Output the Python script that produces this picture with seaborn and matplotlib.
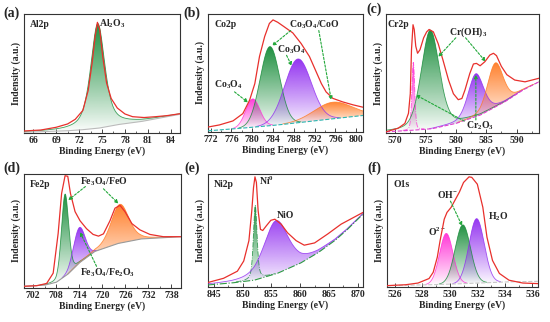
import numpy as np
import seaborn as sns
import matplotlib
matplotlib.use("Agg")
import matplotlib.pyplot as plt
import matplotlib.colors as mcolors
from matplotlib.ticker import AutoMinorLocator

# ---------------- data (intensity in a.u.) ----------------
# (a) Al2p
al_x = [64.8, 67, 69, 70.5, 71.5, 72.5, 73.2, 73.7, 74.1, 74.4, 74.7, 75.1, 75.6, 76.2,
        77, 78, 79, 80.5, 82, 83.5, 85.2]
al_y = [0.017, 0.025, 0.048, 0.076, 0.115, 0.19, 0.36, 0.585, 0.81, 0.93, 0.87, 0.64, 0.42,
        0.29, 0.21, 0.16, 0.137, 0.13, 0.137, 0.146, 0.162]
al_bg_x = [64.8, 70, 72, 74.5, 77, 80, 85.2]
al_bg_y = [0.006, 0.017, 0.025, 0.04, 0.07, 0.095, 0.157]
al_center = [74.45]
al_height = [0.88]
al_fwhm = [2.2]
al_eta = [0.6]

# (b) Co2p
co_x = [771.5, 773.7, 776.3, 778.2, 779.5, 780.5, 781.4, 782.4, 783.3, 784.0, 784.9, 786.2,
        787.8, 789.4, 791.0, 792.3, 793.3, 794.2, 795.5, 797.4, 799.4, 801.3]
co_y = [0.042, 0.06, 0.094, 0.156, 0.27, 0.41, 0.64, 0.81, 0.92, 0.95, 0.93, 0.89, 0.84,
        0.75, 0.64, 0.51, 0.41, 0.34, 0.285, 0.255, 0.23, 0.21]
co_bg_x = [771.5, 776, 780, 785, 790, 795, 801.3]
co_bg_y = [0.01, 0.025, 0.04, 0.06, 0.085, 0.11, 0.14]
co_center = [780.1, 783.4, 788.8, 795.5]
co_height = [0.24, 0.67, 0.54, 0.14]
co_fwhm = [3.2, 4.4, 6.0, 8.5]
co_eta = [0.0, 0.0, 0.0, 0.0]

# (c) Cr2p
cr_x = [568.5, 570.5, 571.6, 572.2, 572.5, 572.7, 572.95, 573.15, 573.4, 573.7, 574.1, 574.7,
        575.2, 575.6, 576.3, 577.1, 577.9, 578.8, 579.6, 580.4, 581.0, 581.5, 582.3, 582.9,
        583.4, 584.0, 584.8, 585.6, 586.2, 586.7, 587.5, 588.4, 589.7, 591.4, 593.7]
cr_y = [0.01, 0.04, 0.08, 0.165, 0.33, 0.70, 0.91, 0.87, 0.73, 0.67, 0.70, 0.80,
        0.85, 0.87, 0.85, 0.75, 0.61, 0.445, 0.33, 0.28, 0.29, 0.36, 0.50, 0.58,
        0.585, 0.565, 0.60, 0.655, 0.67, 0.65, 0.56, 0.49, 0.445, 0.43, 0.46]
cr_bg_x = [568.5, 572, 576, 580, 584, 588, 591, 593.7]
cr_bg_y = [0.01, 0.02, 0.035, 0.08, 0.15, 0.26, 0.36, 0.43]
cr_center = [573.0, 575.8, 583.3, 586.5]
cr_height = [0.57, 0.83, 0.36, 0.37]
cr_fwhm = [0.55, 3.5, 3.0, 3.0]
cr_eta = [0.3, 0.3, 0.3, 0.2]

# (d) Fe2p
fe_x = [699.6, 702.9, 705.5, 707.2, 708.5, 709.4, 710.3, 711.0, 711.7, 712.9, 714.2, 715.9,
        717.6, 719.0, 720.3, 722.0, 723.3, 724.6, 725.9, 727.7, 729.8, 732.4, 735.9, 740.5]
fe_y = [0.015, 0.02, 0.04, 0.13, 0.48, 0.83, 0.985, 0.98, 0.83, 0.67, 0.59, 0.52,
        0.47, 0.455, 0.475, 0.59, 0.70, 0.725, 0.67, 0.565, 0.51, 0.47, 0.45, 0.45]
fe_bg_x = [699.6, 705, 708, 711, 714, 718, 724, 730, 740.5]
fe_bg_y = [0.015, 0.025, 0.05, 0.12, 0.22, 0.32, 0.39, 0.43, 0.45]
fe_center = [710.3, 714.0, 724.6]
fe_height = [0.72, 0.31, 0.34]
fe_fwhm = [2.2, 3.6, 5.5]
fe_eta = [0.2, 0.0, 0.3]

# (e) Ni2p
ni_x = [844.0, 846.7, 849.1, 850.2, 851.1, 851.6, 851.9, 852.15, 852.4, 852.7, 853.1, 853.5,
        854.1, 854.9, 855.6, 856.7, 857.8, 859.3, 860.7, 862.5, 864.8, 867.1, 870.9]
ni_y = [0.04, 0.077, 0.14, 0.23, 0.41, 0.675, 0.88, 0.975, 0.925, 0.675, 0.51, 0.50,
        0.54, 0.59, 0.60, 0.556, 0.48, 0.41, 0.37, 0.39, 0.47, 0.556, 0.66]
ni_bg_x = [844, 848, 852, 856, 860, 863, 866, 868, 870.9]
ni_bg_y = [0.018, 0.035, 0.06, 0.12, 0.21, 0.30, 0.41, 0.50, 0.645]
ni_center = [852.2, 855.8]
ni_height = [0.66, 0.47]
ni_fwhm = [0.75, 5.0]
ni_eta = [0.5, 0.5]

# (f) O1s
o_x = [525.45, 526.8, 527.7, 528.5, 528.8, 529.1, 529.3, 529.6, 529.8, 530.1, 530.3, 530.7,
       531.0, 531.4, 531.6, 532.0, 532.4, 532.7, 533.1, 533.6, 534.3, 535.3, 536.4]
o_y = [0.012, 0.02, 0.035, 0.075, 0.13, 0.265, 0.41, 0.60, 0.66, 0.705, 0.75, 0.84,
       0.925, 0.975, 0.97, 0.91, 0.705, 0.44, 0.235, 0.12, 0.06, 0.035, 0.03]
o_bg_x = [525.45, 528, 530, 532, 534, 536.4]
o_bg_y = [0.012, 0.018, 0.025, 0.035, 0.045, 0.05]
o_center = [529.75, 530.95, 531.95]
o_height = [0.45, 0.52, 0.57]
o_fwhm = [1.15, 1.3, 1.3]
o_eta = [0.0, 0.0, 0.0]

# ---------------- style ----------------
sns.set_style("ticks")
plt.rcParams["font.family"] = ["Liberation Serif", "DejaVu Serif"]
plt.rcParams["font.weight"] = "bold"
plt.rcParams["axes.labelweight"] = "bold"
plt.rcParams["mathtext.fontset"] = "custom"
plt.rcParams["mathtext.rm"] = "Liberation Serif:bold"
plt.rcParams["mathtext.it"] = "Liberation Serif:bold"
plt.rcParams["mathtext.bf"] = "Liberation Serif:bold"
plt.rcParams["mathtext.default"] = "rm"

RED = "#e8302c"
GREEN = "#138a36"
PURPLE = "#8f2bf0"
MAGENTA = "#ff2fd6"
ORANGE = "#ff7a22"
ARROW = "#22a83a"

W, H = 550, 322
fig = plt.figure(figsize=(W / 100, H / 100), dpi=100)


def add_ax(l, t, r, b):
    return fig.add_axes([l / W, 1 - b / H, (r - l) / W, (b - t) / H])


def pvoigt(x, c, h, w, eta):
    g = np.exp(-4 * np.log(2) * ((x - c) / w) ** 2)
    lo = 1 / (1 + 4 * ((x - c) / w) ** 2)
    return h * (eta * lo + (1 - eta) * g)


def grad_fill(ax, x, y0, y1, color, alpha=0.95):
    poly = ax.fill_between(x, y0, y1, color="none", lw=0)
    path = poly.get_paths()[0]
    m = (y1 - y0) > 0.004
    ymin, ymax = y0[m].min(), y1.max()
    img = np.zeros((256, 1, 4))
    img[:, 0, :3] = mcolors.to_rgb(color)
    img[:, 0, 3] = alpha * np.linspace(0, 1, 256) ** 0.9
    im = ax.imshow(img, extent=[x.min(), x.max(), ymin, ymax], origin="lower",
                   aspect="auto", zorder=2, interpolation="bilinear")
    im.set_clip_path(path, transform=ax.transData)


def draw_panel(ax, xs, ys, bgx, bgy, centers, heights, fwhms, etas, colors, styles,
               bg_color, bg_style, xlim, ticks, name, name_x=0.04):
    grid = np.linspace(xlim[0], xlim[1], 800)
    bg = np.interp(grid, bgx, bgy)
    for c, h, w, e, col, ls in zip(centers, heights, fwhms, etas, colors, styles):
        top = bg + pvoigt(grid, c, h, w, e)
        grad_fill(ax, grid, bg, top, col)
        m = (top - bg) > 0.004
        ax.plot(grid[m], top[m], color=col, lw=0.6, ls=ls, alpha=0.8, zorder=3)
    ax.plot(grid, bg, color=bg_color, lw=0.8, ls=bg_style, zorder=3)
    sns.lineplot(x=xs, y=ys, ax=ax, color=RED, lw=0.9, sort=False, zorder=4)
    ax.set_xlim(*xlim)
    ax.set_ylim(0, 1)
    ax.set_xticks(ticks)
    ax.xaxis.set_minor_locator(AutoMinorLocator(2))
    ax.set_yticks([])
    ax.tick_params(axis="x", which="major", direction="in", length=3, width=0.6,
                   labelsize=7, pad=2)
    ax.tick_params(axis="x", which="minor", direction="in", length=1.5, width=0.5)
    for s in ax.spines.values():
        s.set_color("#333333")
        s.set_linewidth(0.8)
    ax.set_xlabel("Binding Energy (eV)", fontsize=7, labelpad=1)
    ax.set_ylabel("Indensity (a.u.)", fontsize=7, labelpad=2)
    ax.text(name_x, 0.91, name, transform=ax.transAxes, fontsize=7, va="center")


def arrow(ax, xy_from, xy_to):
    ax.annotate("", xy=xy_to, xytext=xy_from,
                arrowprops=dict(arrowstyle="-|>", color=ARROW, lw=0.8, ls=(0, (2, 1.5)),
                                mutation_scale=5, shrinkA=0, shrinkB=0), zorder=5)


# (a)
ax = add_ax(24, 14, 180, 133)
draw_panel(ax, al_x, al_y, al_bg_x, al_bg_y, al_center, al_height, al_fwhm, al_eta,
           [GREEN], ["-"], "#bbbbbb", "-", (64.8, 85.2), list(range(66, 85, 3)), "Al2p")
ax.text(76.3, 0.92, r"Al$_2$O$_3$", fontsize=7, ha="center", va="center")

# (b)
ax = add_ax(208, 14, 363, 132)
draw_panel(ax, co_x, co_y, co_bg_x, co_bg_y, co_center, co_height, co_fwhm, co_eta,
           [MAGENTA, GREEN, PURPLE, ORANGE], ["-"] * 4, "#2bb5b0", "--",
           (771.5, 801.3), list(range(772, 801, 4)), "Co2p")
ax.text(792.0, 0.91, r"Co$_3$O$_4$/CoO", fontsize=7, ha="center", va="center")
arrow(ax, (787.4, 0.86), (783.8, 0.73))
arrow(ax, (792.8, 0.86), (795.2, 0.27))
ax.text(787.6, 0.70, r"Co$_3$O$_4$", fontsize=7, ha="center", va="center")
arrow(ax, (786.6, 0.65), (787.6, 0.56))
ax.text(775.3, 0.40, r"Co$_3$O$_4$", fontsize=7, ha="center", va="center")
arrow(ax, (776.6, 0.34), (779.2, 0.25))

# (c)
ax = add_ax(386, 14, 539, 133)
draw_panel(ax, cr_x, cr_y, cr_bg_x, cr_bg_y, cr_center, cr_height, cr_fwhm, cr_eta,
           [MAGENTA, GREEN, PURPLE, ORANGE], ["-.", "-", "-", "-"], "#e040d0", "--",
           (568.5, 593.7), list(range(570, 591, 5)), "Cr2p", name_x=0.01)
ax.text(582.0, 0.85, r"Cr(OH)$_3$", fontsize=7, ha="center", va="center")
arrow(ax, (580.0, 0.80), (577.1, 0.64))
arrow(ax, (581.6, 0.80), (584.9, 0.60))
ax.text(584.0, 0.06, r"Cr$_2$O$_3$", fontsize=7, ha="center", va="center")
arrow(ax, (581.4, 0.10), (573.4, 0.32))
arrow(ax, (583.3, 0.11), (583.3, 0.49))

# (d)
ax = add_ax(24, 174, 181, 288)
draw_panel(ax, fe_x, fe_y, fe_bg_x, fe_bg_y, fe_center, fe_height, fe_fwhm, fe_eta,
           [GREEN, PURPLE, ORANGE], ["-"] * 3, "#9a9a9a", "-",
           (699.6, 740.5), list(range(702, 739, 6)), "Fe2p")
ax.text(720.3, 0.93, r"Fe$_3$O$_4$/FeO", fontsize=7, ha="center", va="center")
arrow(ax, (715.6, 0.89), (711.1, 0.77))
arrow(ax, (720.3, 0.87), (724.2, 0.74))
ax.text(721.3, 0.13, r"Fe$_3$O$_4$/Fe$_2$O$_3$", fontsize=7, ha="center", va="center")
arrow(ax, (718.5, 0.19), (714.2, 0.49))

# (e)
ax = add_ax(208, 174, 363, 287)
draw_panel(ax, ni_x, ni_y, ni_bg_x, ni_bg_y, ni_center, ni_height, ni_fwhm, ni_eta,
           [GREEN, PURPLE], ["-.", "-"], "#2e9a45", "-.",
           (844.0, 870.9), list(range(845, 871, 5)), "Ni2p")
ax.text(854.1, 0.94, r"Ni$^0$", fontsize=7, ha="center", va="center")
ax.text(857.5, 0.63, "NiO", fontsize=7, ha="center", va="center")

# (f)
ax = add_ax(387, 174, 538, 287)
draw_panel(ax, o_x, o_y, o_bg_x, o_bg_y, o_center, o_height, o_fwhm, o_eta,
           [MAGENTA, GREEN, PURPLE], ["-"] * 3, "#c8c8c8", "--",
           (525.45, 536.4), list(range(526, 537, 2)), "O1s")
ax.text(529.8, 0.82, r"OH$^{-}$", fontsize=7, ha="center", va="center")
arrow(ax, (530.05, 0.76), (530.9, 0.54))
ax.text(529.1, 0.485, r"O$^{2-}$", fontsize=7, ha="center", va="center")
ax.text(533.5, 0.62, r"H$_2$O", fontsize=7, ha="center", va="center")

# panel letters
for lab, px, py in [("(a)", 3, 13), ("(b)", 183, 13), ("(c)", 366, 9),
                    ("(d)", 3, 168), ("(e)", 184, 168), ("(f)", 367, 168)]:
    fig.text(px / W, 1 - py / H, lab, fontsize=10, fontweight="bold", va="center", ha="left")

fig.savefig("out.png", dpi=100)
